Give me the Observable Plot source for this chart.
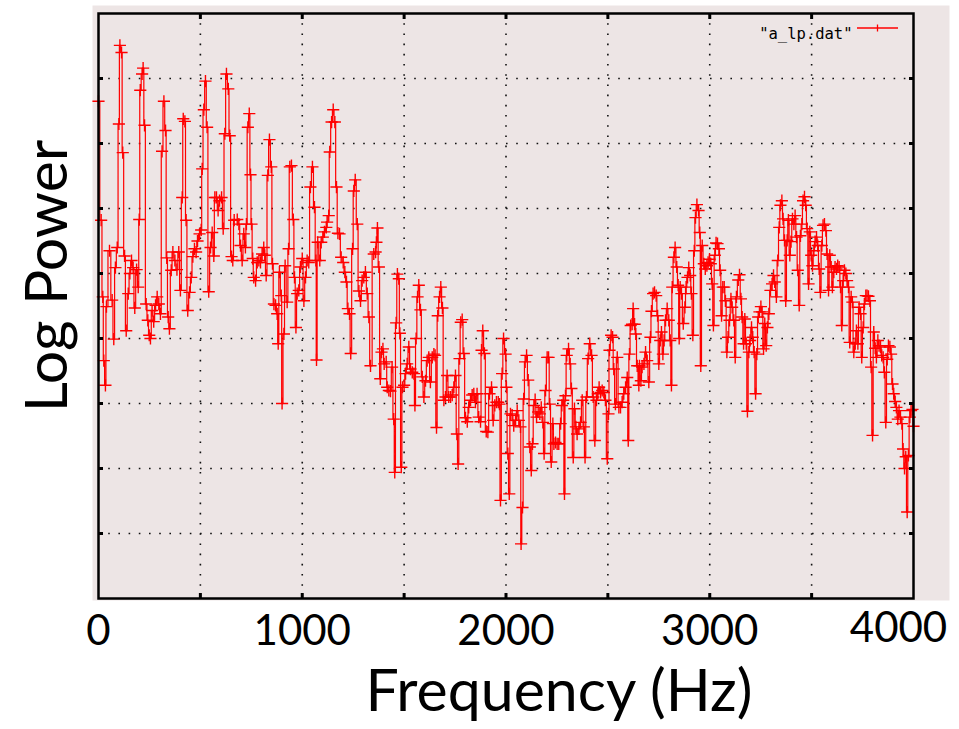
<!DOCTYPE html>
<html><head><meta charset="utf-8">
<script src="https://cdn.jsdelivr.net/npm/d3@7"></script>
<script src="https://cdn.jsdelivr.net/npm/@observablehq/plot@0.6"></script>
<style>html,body{margin:0;padding:0;background:#fff;} #chart{width:959px;height:729px;overflow:hidden}</style>
</head><body><div id="chart"></div>
<script>
const freqHz = [0,13,21,26,34,39,54,67,75,83,92,100,105,113,119,128,136,146,154,162,170,178,187,195,200,205,214,219,226,234,242,249,255,263,271,280,288,296,304,312,321,329,335,342,348,357,365,375,385,394,402,411,416,424,430,438,447,455,463,471,479,486,496,504,509,517,525,533,541,550,558,566,571,579,587,594,604,612,620,628,637,644,653,659,666,
681,689,697,705,713,721,726,733,740,746,751,757,762,771,779,787,795,803,811,816,823,831,839,848,854,861,869,877,882,888,897,901,910,916,926,933,939,947,956,962,969,975,983,991,1000,1008,1016,1024,1032,1040,1050,1060,1067,1070,1076,1086,1093,1101,1109,1118,1122,1130,1135,1144,1152,1160,1168,1175,1183,1191,1201,1209,1217,1224,1232,1238,1247,1253,1260,1270,1278,1286,1294,1302,1310,1319,1327,1335,
1351,1360,1364,1369,1376,1383,1389,1396,1402,1412,1417,1425,1433,1441,1449,1454,1461,1467,1474,1479,1486,1492,1500,1507,1515,1523,1531,1540,1548,1553,1559,1566,1572,1580,1589,1597,1605,1613,1621,1629,1638,1646,1652,1659,1665,1674,1680,1688,1695,1703,1711,1719,1728,1736,1744,1752,1759,1765,1772,1778,1785,1793,1801,1810,1817,1826,1834,1842,1850,1858,1866,1875,1880,1886,1894,1903,1911,1919,1929,1937,1945,1953,1962,1968,1973,1981,1988,
1998,2002,2009,2016,2022,2030,2038,2047,2055,2063,2071,2074,2081,2087,2094,2101,2109,2117,2124,2130,2137,2143,2150,2158,2166,2173,2181,2187,2194,2202,2209,2215,2222,2230,2235,2243,2251,2259,2268,2274,2281,2287,2292,2298,2307,2315,2321,2330,2336,2343,2349,2358,2366,2374,2382,2388,2395,2403,2411,2420,2428,2436,2444,2451,2457,2464,2472,2480,2488,2497,2503,2508,2516,2523,2529,2537,2546,2554,2562,2570,2578,2587,2595,2600,2606,2612,2619,2624,2631,2637,2644,2652,
2655,2662,2668,2677,2685,2693,2701,2709,2714,2722,2729,2737,2744,2750,2757,2763,2770,2776,2783,2791,2799,2806,2812,2816,2824,2830,2838,2845,2850,2855,2861,2870,2878,2884,2891,2897,2904,2910,2917,2924,2930,2937,2945,2951,2956,2963,2971,2978,2986,2992,2999,3005,3012,3018,3025,3031,3038,3045,3051,3058,3064,3071,3077,3084,3090,3097,3104,3110,3118,3125,3131,3140,3146,3153,3159,3166,3172,3179,3185,3192,3198,3205,3211,3218,3225,3231,3238,3244,3251,3257,3264,3270,3277,3283,3290,3298,3306,3313,3319,3327,
3334,3341,3347,3354,3360,3367,3373,3380,3386,3393,3399,3406,3413,3419,3426,3432,3439,3445,3452,3458,3465,3471,3478,3485,3491,3498,3504,3511,3517,3524,3530,3537,3543,3550,3556,3563,3570,3576,3583,3589,3596,3602,3609,3615,3622,3628,3635,3642,3648,3655,3661,3668,3674,3681,3687,3694,3700,3707,3714,3720,3727,3733,3740,3746,3753,3759,3766,3772,3779,3786,3792,3799,3805,3812,3818,3825,3831,3838,3844,3851,3857,3864,3871,3877,3884,3890,3897,3903,3910,3916,3923,3929,3936,3943,3949,3956,3962,3969,3975,3982,3988,3995,4000];
const logPower = [76.5,58.2,46.4,36.6,32.8,44.9,53.5,45.9,39.9,50.9,54.0,73.0,85.1,84.0,68.6,52.7,41.2,46.9,50.0,52.0,50.9,44.7,50.6,47.9,58.3,78.2,80.7,81.6,72.8,45.3,42.8,40.5,40.0,44.3,42.6,45.1,46.4,45.3,43.8,68.8,76.5,72.0,52.4,43.3,41.5,50.5,53.3,52.0,50.6,53.3,47.4,61.7,73.8,73.4,58.2,44.3,47.1,49.4,52.6,53.8,53.3,55.0,56.1,56.7,66.1,75.2,79.6,72.5,47.2,54.0,56.3,52.7,61.7,61.7,59.7,61.2,61.7,56.9,71.5,80.7,78.4,71.2,52.6,52.0,58.2,
58.3,57.6,54.3,52.0,56.1,54.0,57.6,72.5,74.6,65.2,57.6,52.3,49.4,48.9,51.7,52.0,51.7,53.0,54.0,52.8,49.7,65.1,70.6,66.4,51.5,45.3,45.1,43.8,39.2,50.2,46.6,30.0,40.7,51.2,45.6,53.8,66.4,66.6,58.3,49.4,41.7,46.9,47.4,51.0,52.3,45.8,49.4,52.0,51.7,63.3,66.4,60.2,52.0,36.7,54.8,52.0,54.8,55.6,56.4,57.1,57.9,58.9,68.7,73.3,75.2,73.3,63.3,56.2,56.1,52.5,51.7,50.2,48.7,44.6,43.8,37.7,53.8,62.7,64.4,57.6,47.3,45.8,48.9,49.4,50.2,46.9,43.3,35.8,
53.0,53.3,54.8,57.0,51.0,33.8,37.9,38.4,36.1,36.4,32.5,32.0,31.9,35.6,27.6,19.4,42.4,49.9,49.2,40.8,20.2,32.5,32.8,34.6,36.1,38.7,35.3,34.8,34.6,29.7,40.0,46.4,48.2,44.4,34.1,31.0,33.5,36.6,37.1,33.3,37.1,37.6,37.4,26.3,43.5,46.4,47.9,44.7,30.5,31.0,34.3,31.0,31.0,31.3,32.5,34.3,25.3,20.7,36.9,42.5,42.9,37.7,27.8,27.2,29.4,30.5,31.3,31.5,30.2,31.5,27.9,27.2,38.2,41.2,37.7,25.7,25.6,31.5,32.5,27.4,29.7,30.2,30.2,29.9,15.1,34.6,40.0,
37.6,32.5,22.3,16.1,28.4,28.2,26.6,27.4,28.9,27.4,26.4,8.4,14.0,30.7,36.4,37.4,33.6,23.3,19.7,23.8,29.7,30.6,27.9,28.7,28.4,29.4,27.1,22.3,32.0,37.1,37.1,29.9,21.0,26.9,23.8,24.0,23.8,23.8,26.9,29.7,30.5,16.1,31.2,37.4,38.4,36.1,32.3,21.7,29.2,26.4,25.3,26.1,27.1,30.5,26.4,21.7,31.0,36.9,39.2,37.4,31.0,24.3,30.5,31.5,32.5,31.7,32.0,31.7,30.5,21.5,28.4,38.2,40.5,40.2,35.3,29.9,37.1,29.4,29.4,30.2,31.5,32.5,34.0,24.3,37.6,42.0,42.2,44.6,42.2,40.7,35.8,32.8,
35.8,33.5,35.6,36.1,37.9,36.6,33.3,40.2,44.2,46.9,47.1,46.6,43.5,36.1,39.7,41.0,37.6,39.7,42.8,44.6,42.8,39.7,32.8,47.9,52.5,54.0,51.0,48.2,40.0,47.9,46.9,42.3,44.8,47.9,49.4,50.9,49.7,46.9,40.5,53.5,58.6,60.6,59.7,56.3,35.8,54.3,51.5,50.7,51.2,51.7,52.2,51.5,48.4,42.0,52.8,54.7,54.6,53.8,50.5,43.5,47.9,47.9,45.8,37.9,40.2,42.8,46.1,44.8,42.8,37.1,46.4,49.0,49.8,46.1,43.3,39.2,43.0,39.2,28.8,37.9,39.7,41.7,40.2,37.9,31.5,37.6,43.3,44.1,44.9,44.1,38.4,42.3,38.9,41.7,43.8,47.4,48.4,49.7,48.7,46.4,
52.0,57.1,60.5,61.2,58.4,55.1,45.8,55.1,58.2,52.8,54.9,58.4,57.6,58.9,55.6,50.5,45.1,55.8,57.6,61.2,61.8,60.5,56.9,48.4,56.4,52.8,51.2,53.5,54.9,55.6,54.3,50.7,47.1,54.3,57.4,57.6,56.6,53.0,47.4,52.8,51.0,47.9,50.2,51.0,50.7,51.2,51.0,47.9,42.0,48.9,50.5,50.0,48.9,47.9,39.4,46.4,45.6,37.9,39.2,41.2,39.2,44.8,43.8,37.1,41.7,45.3,46.6,46.6,46.5,45.8,35.6,25.1,41.0,38.5,37.1,39.7,38.9,38.7,37.4,37.1,34.8,27.1,36.8,38.9,38.7,37.6,33.0,31.5,30.3,29.4,27.6,28.9,27.9,26.9,23.0,20.0,21.8,13.3,22.0,27.9,28.9,29.1,26.5];
const xGrid = [500,1000,1500,2000,2500,3000,3500];
const yGrid = [10,20,30,40,50,60,70,80];
const xTickLabels = [0,1000,2000,3000,4000];
const xTitle = "Frequency (Hz)";
const yTitle = "Log Power";
const legendLabel = '"a_lp.dat"';

const data = freqHz.map((f, i) => ({f, p: logPower[i]}));
const pink = "#EDE5E5";
const red = "#ff0000";
const dotted = {stroke: "#111", strokeOpacity: 1, strokeWidth: 1.6, strokeDasharray: "1.6,8.6"};
const tickStyle = {tickSize: -5, tickFormat: () => "", label: null, strokeWidth: 3, stroke: "#000"};
const font = "Lato, 'Open Sans', sans-serif";
const W = 959, H = 729, ML = 98, MR = 46, MT = 13, MB = 131;

const chart = Plot.plot({
  width: W, height: H, marginLeft: ML, marginRight: MR, marginTop: MT, marginBottom: MB,
  x: {domain: [0, 4000]},
  y: {domain: [0, 90]},
  style: {background: "transparent", overflow: "visible"},
  marks: [
    Plot.frame({fill: pink, stroke: null, insetLeft: -6, insetTop: -8, insetRight: -36, insetBottom: -2}),
    Plot.gridX(xGrid, dotted),
    Plot.gridY(yGrid, dotted),
    Plot.line(data, {x: "f", y: "p", stroke: red, strokeWidth: 1.2, curve: "step"}),
    Plot.dot(data, {x: "f", y: "p", symbol: "plus", r: 4, stroke: red, strokeWidth: 1.4}),
    Plot.axisX(xGrid, {anchor: "bottom", ...tickStyle}),
    Plot.axisX(xGrid, {anchor: "top", ...tickStyle}),
    Plot.axisY(yGrid, {anchor: "left", ...tickStyle}),
    Plot.axisY(yGrid, {anchor: "right", ...tickStyle}),
    Plot.frame({stroke: "#000", strokeWidth: 2.5}),
    Plot.text(xTickLabels.slice(0, -1), {x: d => d, text: d => String(d), frameAnchor: "bottom", dy: 46, fontSize: 42, fontFamily: font, fill: "#000"}),
    Plot.text(xTickLabels.slice(-1), {x: d => d, text: d => String(d), frameAnchor: "bottom", dy: 43, dx: -15, fontSize: 42, fontFamily: font, fill: "#000"}),
    Plot.text([xTitle], {frameAnchor: "bottom", textAnchor: "middle", dx: 53, dy: 112, fontSize: 59, fontFamily: font, fill: "#000"}),
    Plot.text([yTitle], {frameAnchor: "left", textAnchor: "middle", dx: -50, dy: -30, rotate: -90, fontSize: 59, fontFamily: font, fill: "#000"}),
    Plot.text([legendLabel], {frameAnchor: "top-right", dx: -61, dy: 14, textAnchor: "end", fontSize: 15.5, fontFamily: "'DejaVu Sans Mono', monospace", fill: "#000"})
  ]
});

// legend sample (line with plus marker)
const svg = d3.select(chart);
const lx1 = W - MR - 56, lx2 = W - MR - 15, ly = MT + 15, lc = (lx1 + lx2) / 2;
const g = svg.append("g").attr("stroke", red).attr("stroke-width", 1.3).attr("fill", "none");
g.append("line").attr("x1", lx1).attr("x2", lx2).attr("y1", ly).attr("y2", ly);
g.append("line").attr("x1", lc).attr("x2", lc).attr("y1", ly - 3.5).attr("y2", ly + 3.5);

document.getElementById("chart").appendChild(chart);
</script>
</body></html>
